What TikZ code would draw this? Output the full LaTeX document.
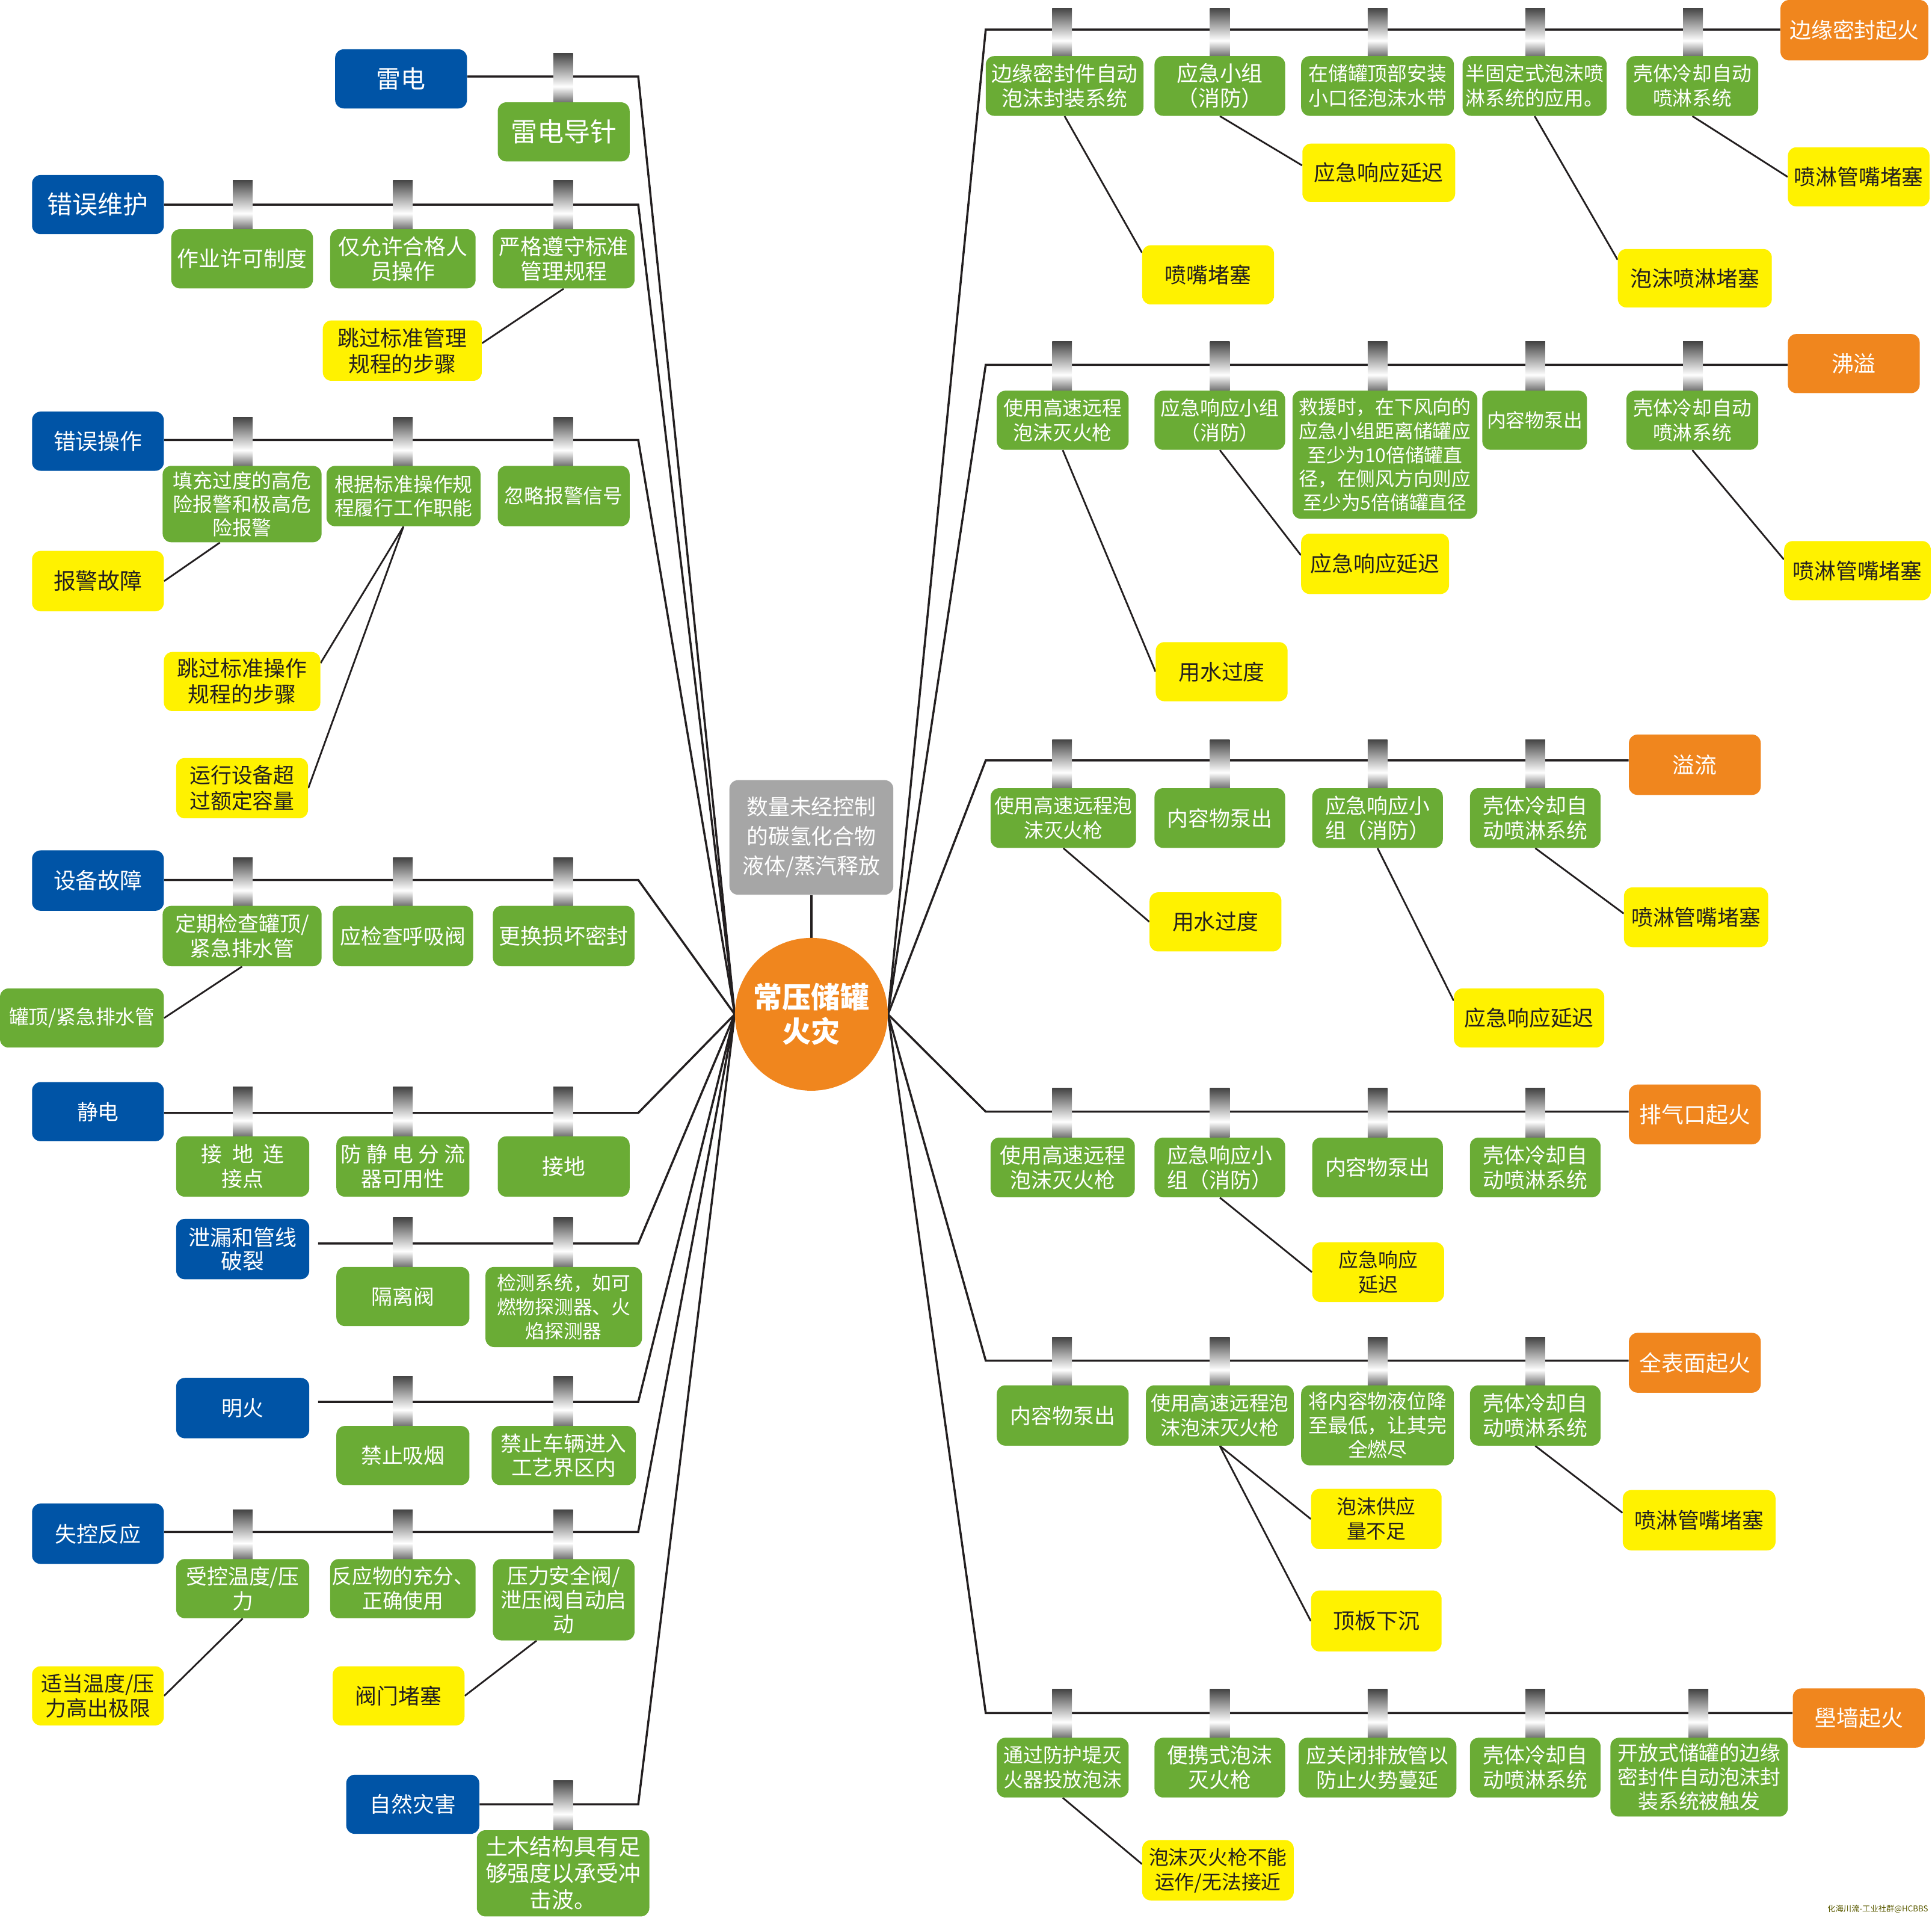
\documentclass[tikz,border=0pt]{standalone}
\usepackage{fontspec}
\setmainfont{Noto Sans CJK SC}
\usetikzlibrary{calc}
\definecolor{blueC}{RGB}{0,84,166}
\definecolor{greenC}{RGB}{106,172,53}
\definecolor{yellowC}{RGB}{255,242,0}
\definecolor{orangeC}{RGB}{240,134,30}
\definecolor{grayC}{RGB}{166,166,166}
\definecolor{lineC}{RGB}{35,31,32}
\definecolor{wmC}{RGB}{90,90,0}
\definecolor{postTop}{RGB}{68,68,68}
\definecolor{postBot}{RGB}{112,112,112}
\pgfdeclareverticalshading{postsh}{100bp}{color(0bp)=(postBot); color(25bp)=(postBot); color(41bp)=(white); color(75bp)=(postTop); color(100bp)=(postTop)}
\pgfdeclarelayer{bg}
\pgfsetlayers{bg,main}
\newcommand{\fz}[2]{\fontsize{#1}{#2}\selectfont}
\newcommand{\bx}[8]{\node[#1, minimum width={#5-#3}, minimum height={#6-#4}, font={#7}] (#2) at ({(#3+#5)/2},{(#4+#6)/2}) {#8};}
\newcommand{\post}[3]{\shade[shading=postsh] (#1-8,#2) rectangle (#1+8,#3);}
\tikzset{
 box/.style={rounded corners=7pt, inner sep=0pt, align=center},
 tb/.style={box, fill=blueC, text=white},
 gb/.style={box, fill=greenC, text=white},
 yb/.style={box, fill=yellowC, text=lineC},
 ob/.style={box, fill=orangeC, text=white},
 conn/.style={draw=lineC, line width=1.7pt},
 esc/.style={draw=lineC, line width=1.4pt},
}
\begin{document}
\begin{tikzpicture}[x=1pt,y=-1pt]
\useasboundingbox (0,0) rectangle (1568,1556);
% ---------- centre ----------
\node[circle, fill=orangeC, minimum size=124pt, inner sep=0pt, text=white, align=center, font={\fz{23.5}{28}\bfseries}] (hub) at (658.5,823) {常压储罐\\火灾};
\bx{box, fill=grayC, text=white}{gray}{592}{633}{725}{726}{\fz{17.5}{24}}{数量未经控制\\的碳氢化合物\\液体/蒸汽释放}
% ---------- left: threats, barriers, escalations ----------
\bx{tb}{t1}{272}{40}{379}{88}{\fz{20}{24}}{雷电}
\bx{gb}{b11}{404}{83}{511}{131}{\fz{21.5}{24}}{雷电导针}
\bx{tb}{t2}{26}{142}{133}{190}{\fz{20.5}{24}}{错误维护}
\bx{gb}{b21}{139}{186}{254}{234}{\fz{17.5}{20}}{作业许可制度}
\bx{gb}{b22}{268}{186}{386}{234}{\fz{17.5}{20}}{仅允许合格人\\员操作}
\bx{gb}{b23}{400}{186}{515}{234}{\fz{17.5}{20}}{严格遵守标准\\管理规程}
\bx{yb}{e21}{262}{260}{391}{309}{\fz{17.5}{21}}{跳过标准管理\\规程的步骤}
\bx{tb}{t3}{26}{334}{133}{382}{\fz{18}{22}}{错误操作}
\bx{gb}{b31}{132}{378}{261}{440}{\fz{16}{19}}{填充过度的高危\\险报警和极高危\\险报警}
\bx{gb}{b32}{265}{378}{390}{427}{\fz{16}{19}}{根据标准操作规\\程履行工作职能}
\bx{gb}{b33}{404}{378}{511}{427}{\fz{16}{20}}{忽略报警信号}
\bx{yb}{e31}{26}{447}{133}{496}{\fz{18}{22}}{报警故障}
\bx{yb}{e32}{133}{529}{260}{577}{\fz{17.5}{21}}{跳过标准操作\\规程的步骤}
\bx{yb}{e33}{143}{615}{250}{664}{\fz{17}{21}}{运行设备超\\过额定容量}
\bx{tb}{t4}{26}{690}{133}{739}{\fz{18}{22}}{设备故障}
\bx{gb}{b41}{132}{735}{261}{784}{\fz{17}{20}}{定期检查罐顶/\\紧急排水管}
\bx{gb}{b42}{270}{735}{384}{784}{\fz{17}{20}}{应检查呼吸阀}
\bx{gb}{b43}{400}{735}{515}{784}{\fz{17.5}{20}}{更换损坏密封}
\bx{gb}{e41}{0}{802}{133}{850}{\fz{16}{20}}{罐顶/紧急排水管}
\bx{tb}{t5}{26}{878}{133}{926}{\fz{17}{20}}{静电}
\bx{gb}{b51}{143}{922}{251}{971}{\fz{17}{20}}{接\hspace{8pt}地\hspace{8pt}连\\接点}
\bx{gb}{b52}{273}{922}{381}{971}{\fz{17}{20}}{防\hspace{4pt}静\hspace{4pt}电\hspace{4pt}分\hspace{4pt}流\\器可用性}
\bx{gb}{b53}{404}{922}{511}{971}{\fz{17.5}{20}}{接地}
\bx{tb}{t6}{143}{989}{251}{1038}{\fz{17.5}{19}}{泄漏和管线\\破裂}
\bx{gb}{b62}{273}{1028}{381}{1076}{\fz{17}{20}}{隔离阀}
\bx{gb}{b63}{394}{1028}{521}{1093}{\fz{15.5}{19.5}}{检测系统，如可\\燃物探测器、火\\焰探测器}
\bx{tb}{t7}{143}{1118}{251}{1167}{\fz{17}{20}}{明火}
\bx{gb}{b72}{273}{1157}{381}{1205}{\fz{17}{20}}{禁止吸烟}
\bx{gb}{b73}{399}{1157}{516}{1205}{\fz{17}{20}}{禁止车辆进入\\工艺界区内}
\bx{tb}{t8}{26}{1220}{133}{1269}{\fz{17.5}{20}}{失控反应}
\bx{gb}{b81}{143}{1265}{251}{1313}{\fz{17}{20}}{受控温度/压\\力}
\bx{gb}{b82}{268}{1265}{386}{1313}{\fz{16.5}{20}}{反应物的充分、\\正确使用}
\bx{gb}{b83}{400}{1265}{515}{1331}{\fz{17}{19.5}}{压力安全阀/\\泄压阀自动启\\动}
\bx{yb}{e81}{26}{1352}{133}{1400}{\fz{17}{20}}{适当温度/压\\力高出极限}
\bx{yb}{e82}{270}{1352}{377}{1400}{\fz{17.5}{20}}{阀门堵塞}
\bx{tb}{t9}{281}{1440}{389}{1488}{\fz{17.5}{20}}{自然灾害}
\bx{gb}{b91}{387}{1485}{527}{1555}{\fz{18}{21.5}}{土木结构具有足\\够强度以承受冲\\击波。}
% ---------- right: consequences ----------
\bx{ob}{o1}{1445}{0}{1565}{49}{\fz{17.5}{20}}{边缘密封起火}
\bx{ob}{o2}{1451}{271}{1558}{319}{\fz{18}{20}}{沸溢}
\bx{ob}{o3}{1322}{596}{1429}{645}{\fz{18}{20}}{溢流}
\bx{ob}{o4}{1322}{880}{1429}{928.5}{\fz{18}{20}}{排气口起火}
\bx{ob}{o5}{1322}{1081.5}{1429}{1130}{\fz{18}{20}}{全表面起火}
\bx{ob}{o6}{1455}{1370}{1562}{1418}{\fz{18}{20}}{壆墙起火}
% row 1
\bx{gb}{r1b1}{800}{45.5}{928}{94}{\fz{17}{20}}{边缘密封件自动\\泡沫封装系统}
\bx{gb}{r1b2}{937}{45.5}{1043}{94}{\fz{17.5}{20}}{应急小组\\（消防）}
\bx{gb}{r1b3}{1056}{45.5}{1180}{94}{\fz{16}{20}}{在储罐顶部安装\\小口径泡沫水带}
\bx{gb}{r1b4}{1187}{45.5}{1304}{94}{\fz{16}{20}}{半固定式泡沫喷\\淋系统的应用。}
\bx{gb}{r1b5}{1320}{45.5}{1427}{94}{\fz{16}{20}}{壳体冷却自动\\喷淋系统}
\bx{yb}{r1e1}{927}{199}{1034}{247}{\fz{17.5}{20}}{喷嘴堵塞}
\bx{yb}{r1e2}{1057}{116.5}{1181}{164}{\fz{17.5}{20}}{应急响应延迟}
\bx{yb}{r1e3}{1313}{202}{1438}{249.5}{\fz{17.5}{20}}{泡沫喷淋堵塞}
\bx{yb}{r1e4}{1451}{119.5}{1566}{167.5}{\fz{17.5}{20}}{喷淋管嘴堵塞}
% row 2
\bx{gb}{r2b1}{809}{317}{916}{365}{\fz{16}{20}}{使用高速远程\\泡沫灭火枪}
\bx{gb}{r2b2}{937}{317}{1043}{365}{\fz{16}{20}}{应急响应小组\\（消防）}
\bx{gb}{r2b3}{1049}{317}{1199}{421}{\fz{15.5}{19.5}}{救援时，在下风向的\\应急小组距离储罐应\\至少为10倍储罐直\\径，在侧风方向则应\\至少为5倍储罐直径}
\bx{gb}{r2b4}{1203}{317}{1288}{365}{\fz{15.5}{20}}{内容物泵出}
\bx{gb}{r2b5}{1320}{317}{1427}{365}{\fz{16}{20}}{壳体冷却自动\\喷淋系统}
\bx{yb}{r2e1}{938}{521}{1045}{569}{\fz{17.5}{20}}{用水过度}
\bx{yb}{r2e2}{1056}{433}{1176}{482}{\fz{17.5}{20}}{应急响应延迟}
\bx{yb}{r2e3}{1448}{439}{1567}{487}{\fz{17.5}{20}}{喷淋管嘴堵塞}
% row 3
\bx{gb}{r3b1}{804}{639.5}{922}{688}{\fz{16}{20}}{使用高速远程泡\\沫灭火枪}
\bx{gb}{r3b2}{937}{639.5}{1043}{688}{\fz{17}{20}}{内容物泵出}
\bx{gb}{r3b3}{1065}{639.5}{1171}{688}{\fz{17}{20}}{应急响应小\\组（消防）}
\bx{gb}{r3b4}{1193}{639.5}{1299}{688}{\fz{17}{20}}{壳体冷却自\\动喷淋系统}
\bx{yb}{r3e1}{933}{724}{1040}{772}{\fz{17.5}{20}}{用水过度}
\bx{yb}{r3e2}{1180}{802}{1302}{850}{\fz{17.5}{20}}{应急响应延迟}
\bx{yb}{r3e3}{1318}{720}{1435}{768.5}{\fz{17.5}{20}}{喷淋管嘴堵塞}
% row 4
\bx{gb}{r4b1}{804}{923}{921}{971.5}{\fz{17}{20}}{使用高速远程\\泡沫灭火枪}
\bx{gb}{r4b2}{937}{923}{1043}{971.5}{\fz{17}{20}}{应急响应小\\组（消防）}
\bx{gb}{r4b3}{1065}{923}{1171}{971.5}{\fz{17}{20}}{内容物泵出}
\bx{gb}{r4b4}{1193}{923}{1299}{971.5}{\fz{17}{20}}{壳体冷却自\\动喷淋系统}
\bx{yb}{r4e1}{1065}{1008}{1172}{1056.5}{\fz{16}{20}}{应急响应\\延迟}
% row 5
\bx{gb}{r5b1}{809}{1124}{916}{1173}{\fz{17}{20}}{内容物泵出}
\bx{gb}{r5b2}{930}{1124}{1050}{1173}{\fz{16}{20}}{使用高速远程泡\\沫泡沫灭火枪}
\bx{gb}{r5b3}{1056}{1124}{1180}{1189}{\fz{16}{19.5}}{将内容物液位降\\至最低，让其完\\全燃尽}
\bx{gb}{r5b4}{1193}{1124}{1299}{1173}{\fz{17}{20}}{壳体冷却自\\动喷淋系统}
\bx{yb}{r5e1}{1064}{1208}{1170}{1257}{\fz{16}{20}}{泡沫供应\\量不足}
\bx{yb}{r5e2}{1064}{1290.5}{1170}{1340}{\fz{17.5}{20}}{顶板下沉}
\bx{yb}{r5e3}{1317}{1209}{1441}{1258}{\fz{17.5}{20}}{喷淋管嘴堵塞}
% row 6
\bx{gb}{r6b1}{809}{1410}{916}{1458.5}{\fz{16}{20}}{通过防护堤灭\\火器投放泡沫}
\bx{gb}{r6b2}{937}{1410}{1043}{1458.5}{\fz{17}{20}}{便携式泡沫\\灭火枪}
\bx{gb}{r6b3}{1054}{1410}{1182}{1458.5}{\fz{16.5}{20}}{应关闭排放管以\\防止火势蔓延}
\bx{gb}{r6b4}{1193}{1410}{1299}{1458.5}{\fz{17}{20}}{壳体冷却自\\动喷淋系统}
\bx{gb}{r6b5}{1307}{1410}{1451}{1474}{\fz{16.5}{19.5}}{开放式储罐的边缘\\密封件自动泡沫封\\装系统被触发}
\bx{yb}{r6e1}{927}{1493}{1050}{1542}{\fz{16}{20}}{泡沫灭火枪不能\\运作/无法接近}
% watermark
\node[font={\fz{6.5}{8}}, text=wmC, anchor=east, inner sep=0pt] (wm) at (1565,1549) {化海川流-工业社群@HCBBS};
% ---------- connectors and barrier posts ----------
\begin{pgfonlayer}{bg}
\coordinate (L1) at (518,62);
\coordinate (L2) at (518,166);
\coordinate (L3) at (518,357);
\coordinate (L4) at (518,714);
\coordinate (L5) at (518,903);
\coordinate (L6) at (518,1009);
\coordinate (L7) at (518,1137.5);
\coordinate (L8) at (518,1243);
\coordinate (L9) at (518,1464);
\draw[conn] (L1 -| t1.east) -- (L1) -- (hub.west);
\draw[conn] (L2 -| t2.east) -- (L2) -- (hub.west);
\draw[conn] (L3 -| t3.east) -- (L3) -- (hub.west);
\draw[conn] (L4 -| t4.east) -- (L4) -- (hub.west);
\draw[conn] (L5 -| t5.east) -- (L5) -- (hub.west);
\draw[conn] ($(L6 -| t6.east)+(7,0)$) -- (L6) -- (hub.west);
\draw[conn] ($(L7 -| t7.east)+(7,0)$) -- (L7) -- (hub.west);
\draw[conn] (L8 -| t8.east) -- (L8) -- (hub.west);
\draw[conn] (L9 -| t9.east) -- (L9) -- (hub.west);
\coordinate (R1) at (800,24);
\coordinate (R2) at (800,296);
\coordinate (R3) at (800,617);
\coordinate (R4) at (800,902);
\coordinate (R5) at (800,1104);
\coordinate (R6) at (800,1390);
\draw[conn] (hub.east) -- (R1) -- (R1 -| o1.west);
\draw[conn] (hub.east) -- (R2) -- (R2 -| o2.west);
\draw[conn] (hub.east) -- (R3) -- (R3 -| o3.west);
\draw[conn] (hub.east) -- (R4) -- (R4 -| o4.west);
\draw[conn] (hub.east) -- (R5) -- (R5 -| o5.west);
\draw[conn] (hub.east) -- (R6) -- (R6 -| o6.west);
\draw[conn] (gray.south) -- (hub.north);
% escalation links left
\draw[esc] (b23.south) -- ([yshift=6pt]e21.east);
\draw[esc] ([xshift=-18pt]b31.south) -- (e31.east);
\draw[esc] (b32.south) -- ([yshift=15pt]e32.east);
\draw[esc] (b32.south) -- (e33.east);
\draw[esc] (b41.south) -- (e41.east);
\draw[esc] (b81.south) -- (e81.east);
\draw[esc] ([xshift=-22pt]b83.south) -- (e82.east);
% escalation links right
\draw[esc] (r1b1.south) -- ([yshift=18pt]r1e1.west);
\draw[esc] (r1b2.south) -- ([yshift=6pt]r1e2.west);
\draw[esc] (r1b4.south) -- ([yshift=15pt]r1e3.west);
\draw[esc] (r1b5.south) -- (r1e4.west);
\draw[esc] (r2b1.south) -- (r2e1.west);
\draw[esc] (r2b2.south) -- ([yshift=7pt]r2e2.west);
\draw[esc] (r2b5.south) -- ([yshift=9pt]r2e3.west);
\draw[esc] (r3b1.south) -- (r3e1.west);
\draw[esc] (r3b3.south) -- ([yshift=14pt]r3e2.west);
\draw[esc] (r3b4.south) -- ([yshift=3pt]r3e3.west);
\draw[esc] (r4b2.south) -- (r4e1.west);
\draw[esc] (r5b2.south) -- (r5e1.west);
\draw[esc] (r5b2.south) -- (r5e2.west);
\draw[esc] (r5b4.south) -- ([yshift=6pt]r5e3.west);
\draw[esc] (r6b1.south) -- ([yshift=5pt]r6e1.west);
% posts left
\post{457}{43}{83}
\foreach \x in {197,327,457} {\post{\x}{146}{186}}
\foreach \x in {197,327,457} {\post{\x}{338.5}{378}}
\foreach \x in {197,327,457} {\post{\x}{696}{735}}
\foreach \x in {197,327,457} {\post{\x}{882}{922}}
\foreach \x in {327,457} {\post{\x}{988}{1028}}
\foreach \x in {327,457} {\post{\x}{1116.5}{1157}}
\foreach \x in {197,327,457} {\post{\x}{1225}{1265}}
\post{457}{1444.5}{1485}
% posts right
\foreach \x in {862,990,1118,1246,1374} {\post{\x}{6.5}{45.5}}
\foreach \x in {862,990,1118,1246,1374} {\post{\x}{277}{317}}
\foreach \x in {862,990,1118,1246} {\post{\x}{600}{639.5}}
\foreach \x in {862,990,1118,1246} {\post{\x}{883}{923}}
\foreach \x in {862,990,1118,1246} {\post{\x}{1085}{1124}}
\foreach \x in {862,990,1118,1246,1378.5} {\post{\x}{1370.5}{1410}}
\end{pgfonlayer}
\end{tikzpicture}
\end{document}
